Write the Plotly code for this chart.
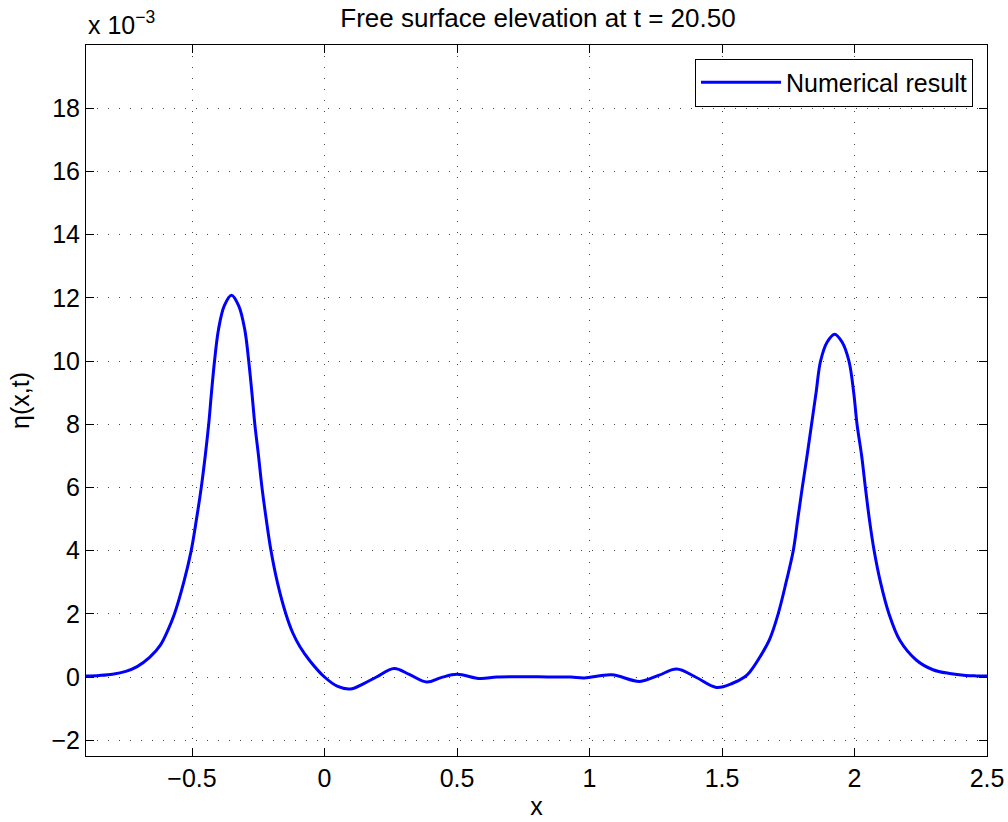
import plotly.graph_objects as go

# Data (eta in units of 1e-3)
x_vals = [-0.90, -0.85, -0.80, -0.75, -0.707, -0.66, -0.62, -0.59, -0.566, -0.531,
          -0.503, -0.483, -0.465, -0.450, -0.437, -0.4265, -0.415, -0.400, -0.378, -0.351,
          -0.324, -0.301, -0.286, -0.274, -0.263, -0.249, -0.236, -0.220, -0.202, -0.178,
          -0.146, -0.12, -0.092, -0.054, 0.0, 0.05, 0.097, 0.15, 0.196, 0.263,
          0.32, 0.386, 0.44, 0.50, 0.587, 0.65, 0.75, 0.85, 0.93, 0.98,
          1.084, 1.19, 1.26, 1.329, 1.40, 1.479, 1.542, 1.585, 1.605, 1.643, 1.680,
          1.712, 1.742, 1.769, 1.786, 1.803, 1.821, 1.838, 1.855, 1.872, 1.897,
          1.925, 1.953, 1.979, 1.997, 2.0095, 2.027, 2.041, 2.056, 2.074, 2.098,
          2.130, 2.171, 2.234, 2.296, 2.359, 2.42, 2.46, 2.50]
eta_vals = [0.03, 0.05, 0.09, 0.18, 0.33, 0.62, 1.0, 1.5, 2.0, 3.0,
            4.0, 5.0, 6.0, 7.0, 8.0, 9.0, 10.0, 11.0, 11.75, 12.08,
            11.75, 11.0, 10.0, 9.0, 8.0, 7.0, 6.0, 5.0, 4.0, 3.0,
            2.0, 1.4, 0.95, 0.5, 0.0, -0.30, -0.38, -0.2, 0.0, 0.27,
            0.08, -0.16, -0.02, 0.085, -0.05, 0.0, 0.01, 0.0, 0.0, -0.03,
            0.07, -0.14, 0.05, 0.25, 0.0, -0.33, -0.19, 0.0, 0.16, 0.63, 1.2,
            2.0, 3.0, 4.0, 5.0, 6.0, 7.0, 8.0, 9.0, 10.0, 10.6,
            10.85, 10.6, 10.0, 9.0, 8.0, 7.0, 6.0, 5.0, 4.0, 3.0,
            2.0, 1.16, 0.53, 0.23, 0.11, 0.05, 0.035, 0.03]

x_ticks = [-0.5, 0, 0.5, 1, 1.5, 2, 2.5]
x_ticktext = ["\u22120.5", "0", "0.5", "1", "1.5", "2", "2.5"]
y_ticks = [-2, 0, 2, 4, 6, 8, 10, 12, 14, 16, 18]
y_ticktext = ["\u22122", "0", "2", "4", "6", "8", "10", "12", "14", "16", "18"]

FONT = "Liberation Sans, Arial, Helvetica, sans-serif"
FS = 25

fig = go.Figure()
fig.add_trace(go.Scatter(
    x=x_vals, y=eta_vals, mode="lines", name="Numerical result",
    line=dict(color="#0000ff", width=3, shape="spline", smoothing=1.0),
))

axis_common = dict(
    showline=True, linecolor="black", linewidth=1, mirror="allticks",
    ticks="inside", ticklen=8, tickwidth=1, tickcolor="black",
    showgrid=True, gridcolor="#444444", gridwidth=1, griddash="1px,10px",
    zeroline=False, automargin=False,
    tickfont=dict(family=FONT, size=FS, color="black"),
)

fig.update_layout(
    width=1008, height=822,
    margin=dict(l=86, r=21, t=45, b=66),
    paper_bgcolor="white", plot_bgcolor="white",
    font=dict(family=FONT, size=FS, color="black"),
    title=dict(text="Free surface elevation at t = 20.50", x=0.5337, xanchor="center",
               y=0.9787, yanchor="middle", font=dict(family=FONT, size=26, color="black")),
    xaxis=dict(range=[-0.9, 2.5], tickvals=x_ticks, ticktext=x_ticktext,
               title=dict(text="x", standoff=6, font=dict(family=FONT, size=FS)),
               **axis_common),
    yaxis=dict(range=[-2.5, 20], tickvals=y_ticks, ticktext=y_ticktext,
               title=dict(text="\u03b7(x,t)", standoff=14, font=dict(family=FONT, size=FS)),
               **axis_common),
    showlegend=True,
    legend=dict(x=0.9845, xanchor="right", y=0.981, yanchor="top",
                bgcolor="white", bordercolor="black", borderwidth=1,
                font=dict(family=FONT, size=FS, color="black"), itemwidth=80,
                tracegroupgap=0),
    annotations=[dict(text="x 10<sup>\u22123</sup>", xref="paper", yref="paper",
                      x=0, y=1, xanchor="left", yanchor="bottom", showarrow=False,
                      yshift=4, font=dict(family=FONT, size=FS, color="black"))],
)

fig.write_html("out.html", config={"displayModeBar": False},
               post_script="document.body.style.margin='0';")
